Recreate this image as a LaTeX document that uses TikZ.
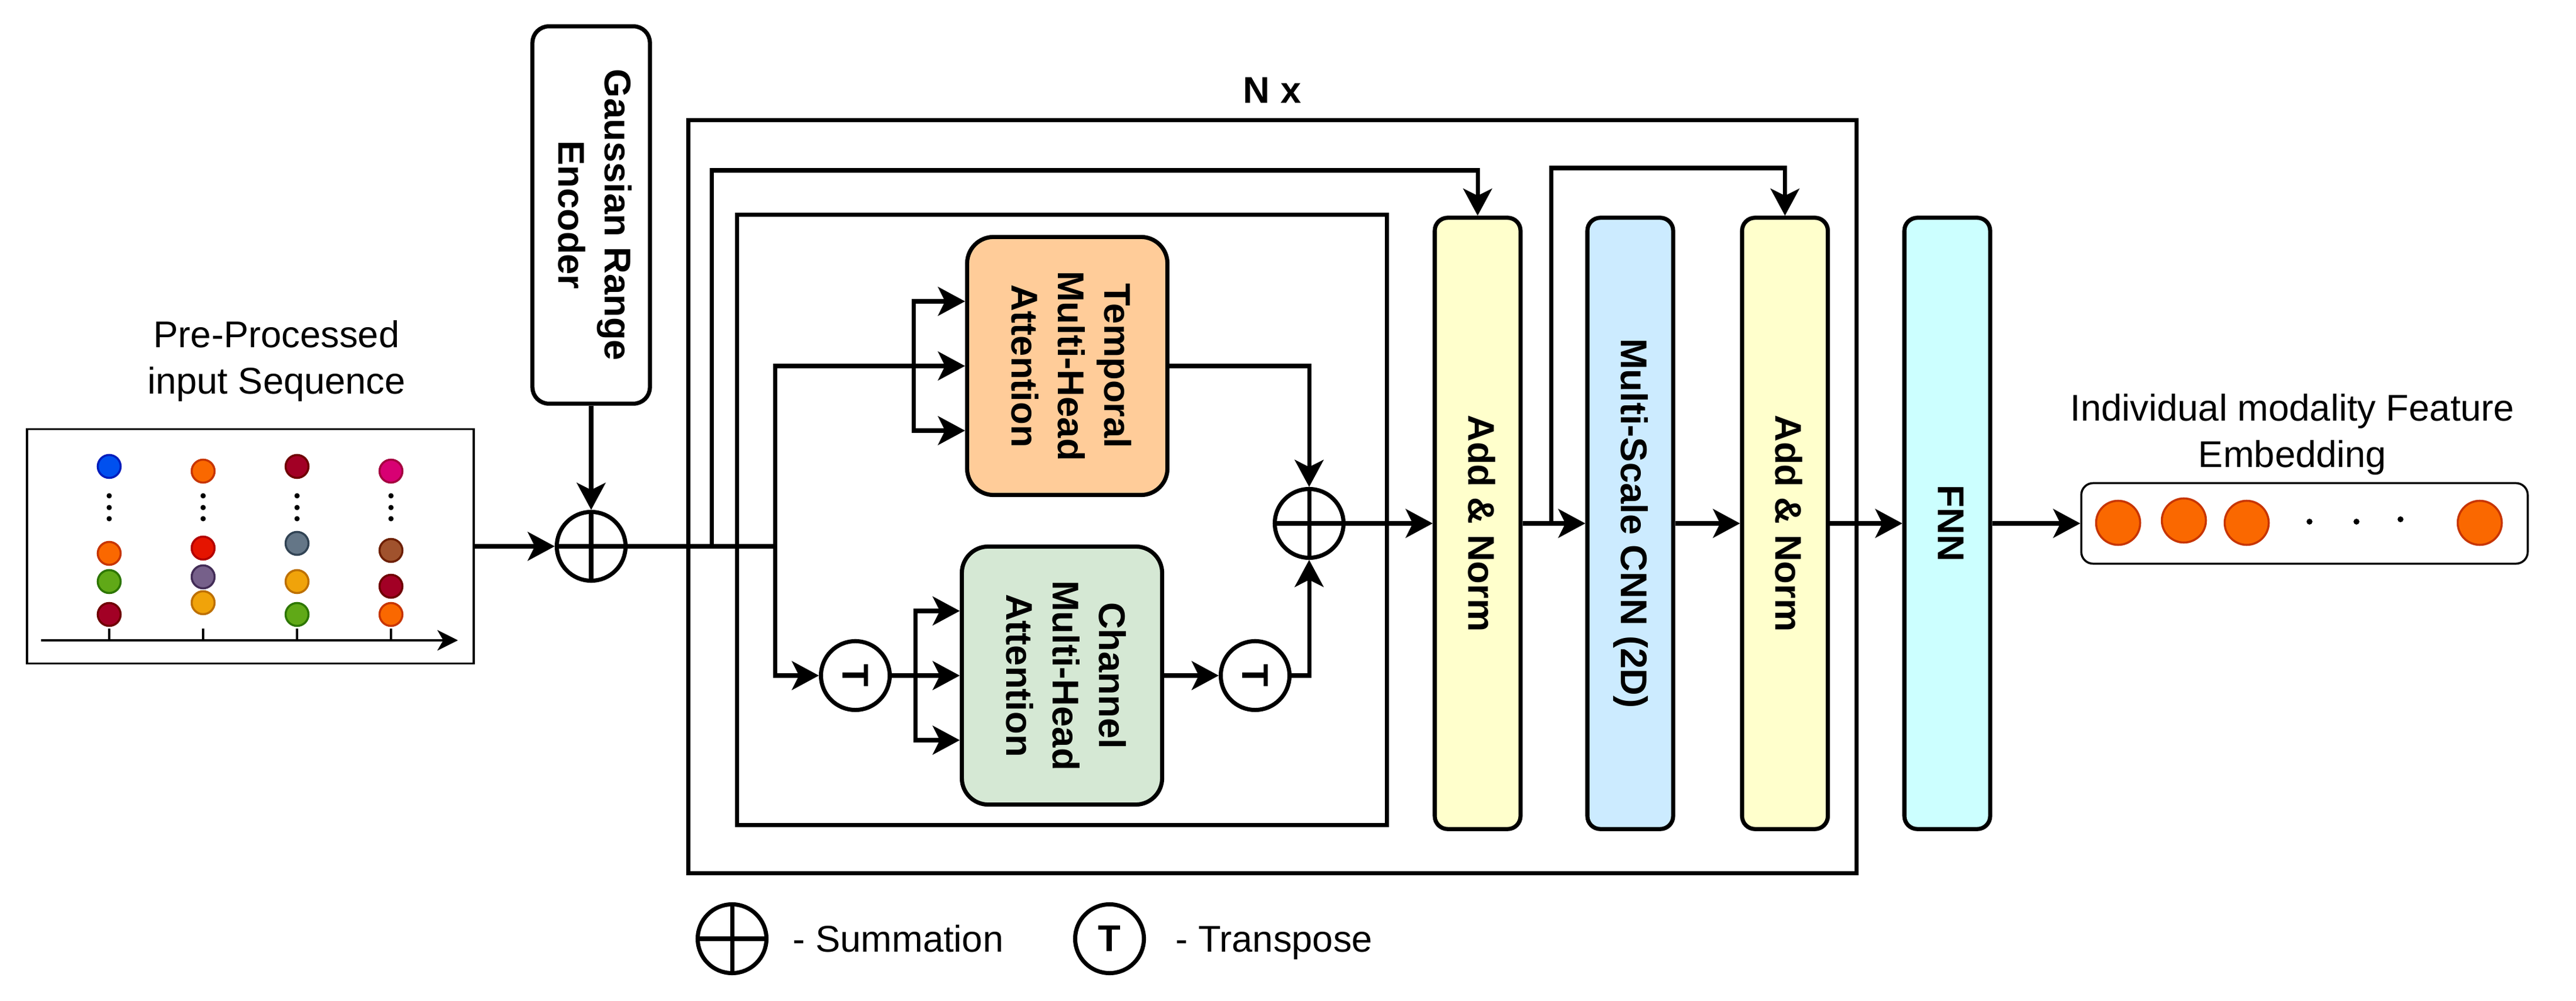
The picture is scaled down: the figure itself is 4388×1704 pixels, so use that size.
\documentclass[tikz,border=0pt]{standalone}
\usepackage{fontspec}
\setmainfont{Liberation Sans}
\usepackage{graphicx}
\usetikzlibrary{arrows.meta,calc}

\definecolor{tempfill}{HTML}{FFCC99}
\definecolor{chanfill}{HTML}{D5E8D4}
\definecolor{normfill}{HTML}{FFFFCC}
\definecolor{cnnfill}{HTML}{CCEBFF}
\definecolor{fnnfill}{HTML}{CCFFFF}
\definecolor{blueF}{HTML}{0050EF}    \definecolor{blueS}{HTML}{001DBC}
\definecolor{orangeF}{HTML}{FA6800}  \definecolor{orangeS}{HTML}{C73500}
\definecolor{wineF}{HTML}{A20025}    \definecolor{wineS}{HTML}{6F0000}
\definecolor{greenF}{HTML}{60A917}   \definecolor{greenS}{HTML}{2D7600}
\definecolor{redF}{HTML}{E51400}     \definecolor{redS}{HTML}{B20000}
\definecolor{violetF}{HTML}{76608A}  \definecolor{violetS}{HTML}{432D57}
\definecolor{amberF}{HTML}{F0A30A}   \definecolor{amberS}{HTML}{BD7000}
\definecolor{slateF}{HTML}{647687}   \definecolor{slateS}{HTML}{314354}
\definecolor{magentaF}{HTML}{D80073} \definecolor{magentaS}{HTML}{A50040}
\definecolor{brownF}{HTML}{A0522D}   \definecolor{brownS}{HTML}{6D1F00}

\newcommand{\diagfont}{\fontsize{18}{22.5}\selectfont}
\newcommand{\vlabel}[1]{\rotatebox{-90}{\begin{tabular}{@{}c@{}}#1\end{tabular}}}

\begin{document}
\begin{tikzpicture}[x=0.01cm, y=-0.01cm, line width=2pt, font=\diagfont,
        >={Stealth[length=0.46cm,width=0.49cm,inset=0.12cm]},
        every node/.style={inner sep=0pt},
        block/.style={draw, rounded corners=0.22cm, minimum width=1.46cm, minimum height=10.40cm, font=\diagfont\bfseries},
        attbox/.style={draw, rounded corners=0.45cm, minimum width=3.41cm, minimum height=4.39cm, font=\diagfont\bfseries},
        opnode/.style={draw, circle, minimum size=1.17cm, font=\diagfont\bfseries},
        sumnode/.style={opnode, path picture={\draw (path picture bounding box.north) -- (path picture bounding box.south) (path picture bounding box.west) -- (path picture bounding box.east);}},
        tok/.style={draw=#1S, fill=#1F, line width=1pt}]
    \useasboundingbox (0,0) rectangle (4388,1704);

    % input sequence
    \node[draw, line width=1pt, minimum width=7.61cm, minimum height=3.99cm] (seq) at (426.5,930) {};
    \node[align=center] (seqlbl) at (471,615) {Pre-Processed\\input Sequence};
    \draw[line width=1pt, -{Stealth[length=0.35cm,width=0.35cm,inset=0.1cm]}] (70,1090) -- (780,1090);
    \draw[line width=1pt] (186,1070) -- (186,1090) (346,1070) -- (346,1090)
        (506,1070) -- (506,1090) (666,1070) -- (666,1090);
    \path[tok=blue] (186,794) circle (0.195cm);
    \path[tok=orange] (186,942) circle (0.195cm);
    \path[tok=green] (186,990) circle (0.195cm);
    \path[tok=wine] (186,1046) circle (0.195cm);
    \path[tok=orange] (346,802) circle (0.195cm);
    \path[tok=red] (346,933) circle (0.195cm);
    \path[tok=violet] (346,982) circle (0.195cm);
    \path[tok=amber] (346,1026) circle (0.195cm);
    \path[tok=wine] (506,794) circle (0.195cm);
    \path[tok=slate] (506,925) circle (0.195cm);
    \path[tok=amber] (506,990) circle (0.195cm);
    \path[tok=green] (506,1046) circle (0.195cm);
    \path[tok=magenta] (666,802) circle (0.195cm);
    \path[tok=brown] (666,937) circle (0.195cm);
    \path[tok=wine] (666,998) circle (0.195cm);
    \path[tok=orange] (666,1046) circle (0.195cm);
    \fill (186,844) circle (0.045cm) (186,864) circle (0.045cm) (186,883) circle (0.045cm)
        (346,844) circle (0.045cm) (346,864) circle (0.045cm) (346,883) circle (0.045cm)
        (506,844) circle (0.045cm) (506,864) circle (0.045cm) (506,883) circle (0.045cm)
        (666,844) circle (0.045cm) (666,864) circle (0.045cm) (666,883) circle (0.045cm);

    % encoder
    \node[draw, rounded corners=0.28cm, minimum width=2cm, minimum height=6.42cm, font=\diagfont\bfseries] (gre) at (1007,366) {\vlabel{Gaussian Range\\Encoder}};
    \node[sumnode] (sumin) at (1007,930) {};
    \draw[->] (seq.east) -- (sumin.west);
    \draw[->] (gre.south) -- (sumin.north);

    % repeated layer
    \node[draw, minimum width=19.89cm, minimum height=12.81cm] (layer) at (2167.5,845.5) {};
    \node[font=\diagfont\bfseries] (nx) at (2167,154) {N x};
    \node[draw, minimum width=11.06cm, minimum height=10.38cm] (attn) at (1809,885) {};
    \node[attbox, fill=tempfill] (tma) at (1818,623) {\vlabel{Temporal\\Multi-Head\\Attention}};
    \node[attbox, fill=chanfill] (cma) at (1809,1150) {\vlabel{Channel\\Multi-Head\\Attention}};
    \node[opnode] (tin) at (1457,1150) {\rotatebox{-90}{T}};
    \node[opnode] (tout) at (2138,1150) {\rotatebox{-90}{T}};
    \node[sumnode] (sumatt) at (2230,891) {};

    \coordinate (br) at (1320,930);
    \coordinate (tf) at (1556,623);
    \coordinate (cf) at (1559,1150);
    \coordinate (sk1) at (1212,930);
    \coordinate (sk2) at (2642,891);

    \draw (sumin.east) -- (br);
    \draw[->] (br) |- (tma.west);
    \draw[->] (br) |- (tin.west);
    \draw[->] (tf) |- ($(tma.west)+(0,-110)$);
    \draw[->] (tf) |- ($(tma.west)+(0,110)$);
    \draw[->] (tin.east) -- (cma.west);
    \draw[->] (cf) |- ($(cma.west)+(0,-110)$);
    \draw[->] (cf) |- ($(cma.west)+(0,110)$);
    \draw[->] (cma.east) -- (tout.west);
    \draw[->] (tma.east) -| (sumatt.north);
    \draw[->] (tout.east) -| (sumatt.south);

    \node[block, fill=normfill] (an1) at (2517,891) {\vlabel{Add \& Norm}};
    \node[block, fill=cnnfill] (cnn) at (2777,891) {\vlabel{Multi-Scale CNN (2D)}};
    \node[block, fill=normfill] (an2) at (3040.5,891) {\vlabel{Add \& Norm}};
    \node[block, fill=fnnfill] (fnn) at (3317,891) {\vlabel{FNN}};
    \draw[->] (sumatt.east) -- (an1.west);
    \draw[->] (an1.east) -- (cnn.west);
    \draw[->] (cnn.east) -- (an2.west);
    \draw[->] (an2.east) -- (fnn.west);
    \draw[->] (sk1) -- ++(0,-640) -| (an1.north);
    \draw[->] (sk2) -- ++(0,-605) -| (an2.north);

    % output embedding
    \node[draw, line width=1pt, rounded corners=0.2cm, minimum width=7.60cm, minimum height=1.37cm] (emb) at (3925.5,891) {};
    \node[align=center] (emblbl) at (3905,740) {Individual modality Feature\\Embedding};
    \draw[->] (fnn.east) -- (emb.west);
    \path[tok=orange] (3608,890) circle (0.375cm);
    \path[tok=orange] (3720,886) circle (0.375cm);
    \path[tok=orange] (3827,890) circle (0.375cm);
    \path[tok=orange] (4224,890) circle (0.375cm);
    \fill (3934,888) circle (0.05cm) (4014,888) circle (0.05cm) (4089,884) circle (0.05cm);

    % legend
    \node[sumnode] (legsum) at (1247,1598) {};
    \node[anchor=base west] (legsumtxt) at (1347,1620) {- Summation};
    \node[opnode] (legt) at (1890,1598) {T};
    \node[anchor=base west] (legttxt) at (1999,1620) {- Transpose};
\end{tikzpicture}
\end{document}
